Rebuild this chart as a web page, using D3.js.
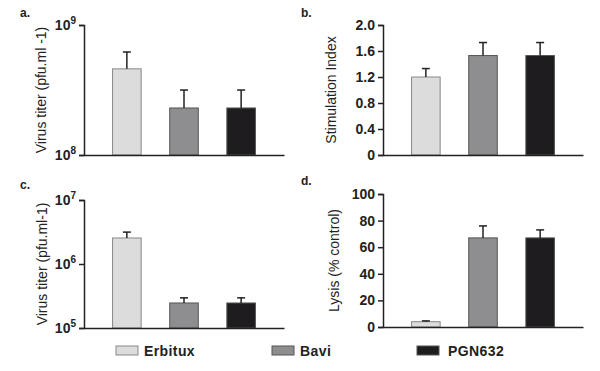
<!DOCTYPE html>
<html>
<head>
<meta charset="utf-8">
<script src="https://cdn.jsdelivr.net/npm/d3@7"></script>
<style>
  body { margin: 0; background: #fff; }
  svg { display: block; }
  .tick text { font-family: "Liberation Sans", Arial, sans-serif; font-weight: bold; font-size: 14px; fill: #222; }
  .axis-title { font-family: "Liberation Sans Narrow", "Liberation Sans", Arial, sans-serif; font-size: 14px; fill: #222; }
  .panel-label { font-family: "Liberation Sans", Arial, sans-serif; font-weight: bold; font-size: 12px; fill: #222; }
  .legend-text { font-family: "Liberation Sans", Arial, sans-serif; font-weight: bold; font-size: 14px; letter-spacing: 0.4px; fill: #222; }
</style>
</head>
<body>
<div id="chart"></div>
<script>
// data
const groups = ["Erbitux", "Bavi", "PGN632"];
const colors = ["#dcdcdc", "#8e8e90", "#1e1c1e"];

const titerA = [4.6e8, 2.3e8, 2.3e8];
const titerAErr = [1.6e8, 0.86e8, 0.86e8];

const stimIndex = [1.2, 1.53, 1.53];
const stimIndexErr = [0.13, 0.2, 0.2];
const stimTicks = [0, 0.4, 0.8, 1.2, 1.6, 2.0];

const titerC = [2.55e6, 2.46e5, 2.46e5];
const titerCErr = [0.6e6, 0.5e5, 0.5e5];

const lysis = [4, 67, 67];
const lysisErr = [0.6, 9, 6];
const lysisTicks = [0, 20, 40, 60, 80, 100];

const svg = d3.select("#chart").append("svg")
    .attr("width", 600)
    .attr("height", 371);

function drawPanel(p) {
    const g = svg.append("g");

    const x = d3.scaleBand().domain(groups)
        .range([p.left, p.left + 200])
        .paddingInner(0.5)
        .paddingOuter(0.5);

    const y = (p.log ? d3.scaleLog() : d3.scaleLinear())
        .domain(p.domain)
        .range([p.bottom, p.top]);

    // bars
    g.selectAll(".bar").data(p.values).enter()
        .append("rect")
        .attr("class", "bar")
        .attr("x", (d, i) => x(groups[i]))
        .attr("y", d => y(d))
        .attr("width", x.bandwidth())
        .attr("height", d => p.bottom - y(d))
        .attr("fill", (d, i) => colors[i])
        .attr("stroke", (d, i) => i === 0 ? "#888" : "#555")
        .attr("stroke-width", 1);

    // error bars (upper only)
    p.values.forEach((v, i) => {
        const cx = x(groups[i]) + x.bandwidth() / 2;
        const yTop = y(v + p.errs[i]);
        g.append("line")
            .attr("x1", cx).attr("x2", cx)
            .attr("y1", y(v)).attr("y2", yTop)
            .attr("stroke", "#222").attr("stroke-width", 1.5);
        g.append("line")
            .attr("x1", cx - 4).attr("x2", cx + 4)
            .attr("y1", yTop).attr("y2", yTop)
            .attr("stroke", "#222").attr("stroke-width", 1.5);
    });

    // axes
    const yAxis = d3.axisLeft(y).tickSizeOuter(0).tickSize(5).tickPadding(3);
    if (p.log) {
        const decades = d3.range(Math.log10(p.domain[0]), Math.log10(p.domain[1]) + 1);
        yAxis.tickValues(decades.map(e => Math.pow(10, e))).tickFormat(() => "");
    } else {
        yAxis.tickValues(p.ticks).tickFormat(p.format);
    }
    const ya = g.append("g")
        .attr("transform", `translate(${p.left},0)`)
        .call(yAxis);

    // superscript exponents for log ticks
    if (p.log) {
        ya.selectAll(".tick text").each(function (d) {
            const t = d3.select(this);
            t.append("tspan").text("10");
            t.append("tspan")
                .attr("dy", "-0.55em")
                .style("font-size", "10px")
                .text(Math.round(Math.log10(d)));
        });
    }

    g.append("g")
        .attr("transform", `translate(0,${p.bottom})`)
        .call(d3.axisBottom(x).tickSize(0).tickFormat(""));

    g.selectAll(".domain").attr("stroke", "#222").attr("stroke-width", 1.5);
    g.selectAll(".tick line").attr("stroke", "#222").attr("stroke-width", 1.5);

    // axis title
    g.append("text")
        .attr("class", "axis-title")
        .attr("text-anchor", "middle")
        .attr("transform", `translate(${p.titleX},${(p.top + p.bottom) / 2}) rotate(-90)`)
        .text(p.title);

    // panel letter
    g.append("text")
        .attr("class", "panel-label")
        .attr("x", p.labelX)
        .attr("y", p.labelY)
        .text(p.label);
}

drawPanel({ label: "a.", labelX: 20, labelY: 17, left: 84, top: 25, bottom: 155, log: true,
    domain: [1e8, 1e9], values: titerA, errs: titerAErr, title: "Virus titer (pfu.ml -1)", titleX: 46 });

drawPanel({ label: "b.", labelX: 301, labelY: 17, left: 383, top: 25, bottom: 155, log: false,
    domain: [0, 2], ticks: stimTicks, format: d => d === 0 ? "0" : d3.format(".1f")(d),
    values: stimIndex, errs: stimIndexErr, title: "Stimulation Index", titleX: 336 });

drawPanel({ label: "c.", labelX: 20, labelY: 189, left: 84, top: 200, bottom: 328, log: true,
    domain: [1e5, 1e7], values: titerC, errs: titerCErr, title: "Virus titer (pfu.ml-1)", titleX: 47 });

drawPanel({ label: "d.", labelX: 301, labelY: 185, left: 383, top: 194, bottom: 327, log: false,
    domain: [0, 100], ticks: lysisTicks, format: d3.format("d"),
    values: lysis, errs: lysisErr, title: "Lysis (% control)", titleX: 339 });

// legend
const legendX = [116, 272, 417];
const legend = svg.append("g").selectAll("g").data(groups).enter()
    .append("g")
    .attr("transform", (d, i) => `translate(${legendX[i]},346)`);

legend.append("rect")
    .attr("width", 22).attr("height", 9)
    .attr("fill", (d, i) => colors[i])
    .attr("stroke", (d, i) => i === 0 ? "#888" : "#555");

legend.append("text")
    .attr("class", "legend-text")
    .attr("x", (d, i) => i === 2 ? 31 : 28)
    .attr("y", 10)
    .text(d => d);
</script>
</body>
</html>
